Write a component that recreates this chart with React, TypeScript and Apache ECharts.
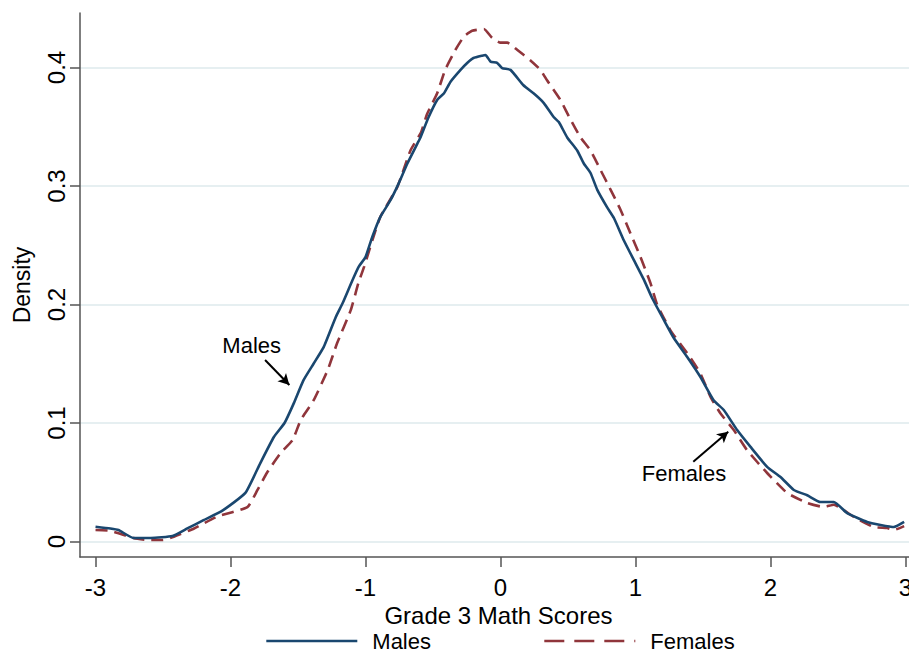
import React, { useEffect, useRef } from 'react';
import * as echarts from 'echarts';

const maleX = [-3.0, -2.89, -2.83, -2.72, -2.59, -2.43, -2.32, -2.2, -2.06, -1.89, -1.78, -1.68, -1.6, -1.53, -1.46, -1.385, -1.31, -1.22, -1.17, -1.096, -1.05, -1.0, -0.95, -0.89, -0.815, -0.755, -0.69, -0.615, -0.593, -0.533, -0.467, -0.42, -0.37, -0.296, -0.245, -0.2, -0.136, -0.111, -0.074, -0.025, 0.012, 0.074, 0.17, 0.247, 0.321, 0.395, 0.432, 0.494, 0.568, 0.617, 0.667, 0.716, 0.79, 0.84, 0.914, 0.988, 1.062, 1.123, 1.21, 1.284, 1.383, 1.48, 1.58, 1.654, 1.753, 1.852, 1.975, 2.074, 2.173, 2.272, 2.37, 2.469, 2.568, 2.716, 2.815, 2.914, 2.99];
const maleY = [0.0125, 0.011, 0.0097, 0.003, 0.003, 0.0046, 0.011, 0.018, 0.026, 0.041, 0.066, 0.088, 0.1, 0.117, 0.136, 0.15, 0.164, 0.1895, 0.201, 0.2207, 0.232, 0.24, 0.257, 0.274, 0.288, 0.302, 0.319, 0.336, 0.341, 0.358, 0.373, 0.378, 0.388, 0.398, 0.404, 0.408, 0.41, 0.4105, 0.405, 0.404, 0.3995, 0.398, 0.385, 0.378, 0.37, 0.358, 0.354, 0.341, 0.33, 0.319, 0.311, 0.297, 0.282, 0.273, 0.254, 0.2375, 0.221, 0.2055, 0.187, 0.1717, 0.1557, 0.139, 0.119, 0.111, 0.094, 0.0798, 0.063, 0.0544, 0.0435, 0.039, 0.0333, 0.0333, 0.024, 0.0165, 0.014, 0.0122, 0.0165];

const femaleX = [-3.0, -2.89, -2.72, -2.61, -2.5, -2.42, -2.27, -2.1, -1.875, -1.8, -1.73, -1.63, -1.54, -1.48, -1.385, -1.28, -1.21, -1.11, -1.053, -1.01, -0.95, -0.89, -0.765, -0.667, -0.59, -0.543, -0.47, -0.41, -0.333, -0.272, -0.21, -0.123, -0.062, 0.0, 0.05, 0.123, 0.222, 0.296, 0.346, 0.444, 0.519, 0.593, 0.667, 0.741, 0.815, 0.889, 0.963, 1.037, 1.111, 1.16, 1.26, 1.383, 1.48, 1.556, 1.63, 1.728, 1.827, 1.975, 2.123, 2.272, 2.395, 2.469, 2.617, 2.765, 2.864, 2.914, 2.99];
const femaleY = [0.0097, 0.009, 0.003, 0.0013, 0.0013, 0.004, 0.011, 0.021, 0.029, 0.0435, 0.058, 0.0745, 0.0856, 0.1025, 0.119, 0.1447, 0.1675, 0.195, 0.218, 0.232, 0.254, 0.274, 0.299, 0.33, 0.345, 0.361, 0.378, 0.398, 0.415, 0.426, 0.431, 0.4325, 0.425, 0.421, 0.421, 0.415, 0.406, 0.398, 0.389, 0.3726, 0.356, 0.341, 0.33, 0.3135, 0.297, 0.28, 0.26, 0.24, 0.218, 0.2, 0.178, 0.159, 0.142, 0.122, 0.108, 0.094, 0.077, 0.0578, 0.041, 0.0325, 0.0291, 0.031, 0.0207, 0.0122, 0.0114, 0.0097, 0.013];

const xTicks = [-3, -2, -1, 0, 1, 2, 3];
const yTicks = [0, 0.1, 0.2, 0.3, 0.4];
const seriesNames = ['Males', 'Females'];

// annotation text positions and arrows, in data units
const maleLabel = { x: -1.843, y: 0.1658, text: 'Males' };
const maleArrow = [[-1.744, 0.1532], [-1.564, 0.1321]];
const femaleLabel = { x: 1.359, y: 0.0574, text: 'Females' };
const femaleArrow = [[1.428, 0.0673], [1.687, 0.0927]];

const NAVY = '#1a476f';
const MAROON = '#90353b';
const FONT = '"Liberation Sans", Arial, Helvetica, sans-serif';

export default function App() {
  const ref = useRef<HTMLDivElement>(null);
  useEffect(() => {
    document.body.style.margin = '0';
    const chart = echarts.init(ref.current!, null, { renderer: 'svg' });
    const pairs = (xs: number[], ys: number[]) => xs.map((x, i) => [x, ys[i]]);
    const arrowLine = (a: number[][]) => [
      { coord: a[0], symbol: 'none' },
      { coord: a[1], symbol: 'arrow' },
    ];
    chart.setOption({
      animation: false,
      backgroundColor: '#ffffff',
      textStyle: { fontFamily: FONT },
      grid: { left: 80, top: 13, right: 0, height: 544, containLabel: false, outerBoundsMode: 'none' },
      xAxis: {
        type: 'value',
        min: -3.115,
        max: 3.026,
        axisLine: { show: true, onZero: false, lineStyle: { color: '#555555', width: 1.5 } },
        axisTick: { show: true, length: 10, customValues: xTicks, lineStyle: { color: '#555555', width: 1.5 } },
        axisLabel: { customValues: xTicks, margin: 18, fontSize: 24, color: '#000', fontFamily: FONT, formatter: (v: number) => String(v) },
        splitLine: { show: false },
        name: 'Grade 3 Math Scores',
        nameLocation: 'middle',
        nameGap: 43,
        nameTextStyle: { fontSize: 24, color: '#000', fontFamily: FONT, padding: [0, 0, 0, 8] },
      },
      yAxis: {
        type: 'value',
        min: -0.01308,
        max: 0.446,
        axisLine: { show: true, onZero: false, lineStyle: { color: '#555555', width: 1.5 } },
        axisTick: { show: true, length: 10, customValues: yTicks, lineStyle: { color: '#555555', width: 1.5 } },
        axisLabel: { customValues: yTicks, rotate: 90, margin: 12, fontSize: 24, color: '#000', fontFamily: FONT, formatter: (v: number) => String(v) },
        splitLine: { show: true, lineStyle: { color: '#e6eff1', width: 2 } },
        name: 'Density',
        nameLocation: 'middle',
        nameGap: 47,
        nameTextStyle: { fontSize: 23, color: '#000', fontFamily: FONT },
      },
      legend: [
        {
          data: [seriesNames[0]],
          left: 265,
          top: 630,
          padding: 0,
          itemWidth: 91,
          itemHeight: 14,
          itemStyle: { opacity: 0 },
          textStyle: { fontSize: 22, color: '#000', fontFamily: FONT, padding: [0, 0, 0, 10] },
          lineStyle: { width: 2.6 },
        },
        {
          data: [seriesNames[1]],
          left: 543,
          top: 630,
          padding: 0,
          itemWidth: 91,
          itemHeight: 14,
          itemStyle: { opacity: 0 },
          textStyle: { fontSize: 22, color: '#000', fontFamily: FONT, padding: [0, 0, 0, 10] },
          lineStyle: { width: 2.6, type: [20, 10] },
        },
      ],
      series: [
        {
          name: seriesNames[0],
          type: 'line',
          data: pairs(maleX, maleY),
          symbol: 'none',
          smooth: 0.15,
          color: NAVY,
          lineStyle: { color: NAVY, width: 2.6 },
          z: 3,
          markLine: {
            silent: true,
            symbolSize: [9, 11],
            lineStyle: { color: '#000', width: 2, type: 'solid' },
            label: { show: false },
            data: [arrowLine(maleArrow), arrowLine(femaleArrow)],
          },
          markPoint: {
            silent: true,
            symbol: 'circle',
            symbolSize: 0,
            label: { show: true, position: 'inside', fontSize: 22, color: '#000', fontFamily: FONT, formatter: (p: any) => p.name },
            data: [
              { name: maleLabel.text, coord: [maleLabel.x, maleLabel.y] },
              { name: femaleLabel.text, coord: [femaleLabel.x, femaleLabel.y] },
            ],
          },
        },
        {
          name: seriesNames[1],
          type: 'line',
          data: pairs(femaleX, femaleY),
          symbol: 'none',
          smooth: 0.15,
          color: MAROON,
          lineStyle: { color: MAROON, width: 2.6, type: [12, 7] },
          z: 2,
        },
      ],
    });
    return () => chart.dispose();
  }, []);
  return <div ref={ref} style={{ width: 909, height: 651 }} />;
}
